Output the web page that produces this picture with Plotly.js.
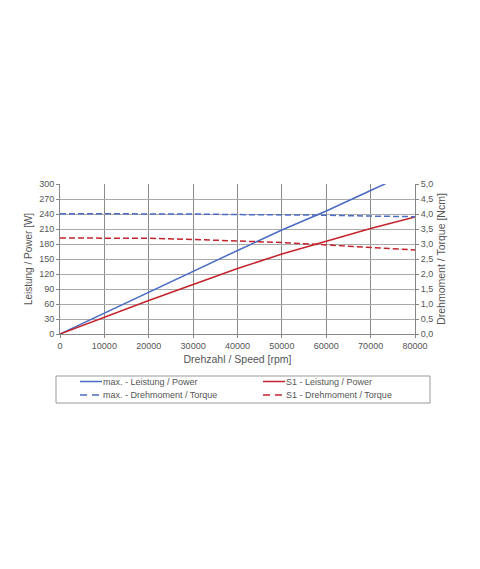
<!DOCTYPE html>
<html>
<head>
<meta charset="utf-8">
<script src="https://cdn.plot.ly/plotly-3.0.1.min.js"></script>
<style>html,body{margin:0;padding:0;background:#fff;}#chart{width:480px;height:569px;}</style>
</head>
<body>
<div id="chart"></div>
<script>
const speed = [0, 10000, 20000, 30000, 40000, 50000, 60000, 70000, 80000];
const maxPower = [0, 42, 84, 125, 167, 208, 246, 287, 328];
const s1Power = [0, 34, 67, 99, 131, 160, 186, 211, 234];
const maxTorque = [4.01, 4.01, 4.01, 4.0, 3.98, 3.98, 3.96, 3.93, 3.91];
const s1Torque = [3.2, 3.2, 3.19, 3.15, 3.11, 3.05, 2.97, 2.89, 2.8];
const torqueTicks = [0, 0.5, 1, 1.5, 2, 2.5, 3, 3.5, 4, 4.5, 5];
const torqueLabels = ['0,0','0,5','1,0','1,5','2,0','2,5','3,0','3,5','4,0','4,5','5,0'];
const names = ['max. - Leistung / Power', 'S1 - Leistung / Power', 'max. - Drehmoment / Torque', 'S1 - Drehmoment / Torque'];

const blue = '#4a6cc2';
const red = '#c3232c';
const font = 'Liberation Sans, Arial, sans-serif';
const colors = [blue, red, blue, red];
const dashes = ['solid', 'solid', '6px,3px', '6px,3px'];
const axes = ['y', 'y', 'y2', 'y2'];
const series = [maxPower, s1Power, maxTorque, s1Torque];

const traces = series.map((s, i) => ({
  x: speed, y: s, name: names[i], mode: 'lines', yaxis: axes[i],
  line: {color: colors[i], width: 1.5, dash: dashes[i]}, showlegend: false
}));

// plot area in pixels (for placing the legend box below it)
const M = {l: 60, r: 65, t: 184, b: 235};
const PW = 480 - M.l - M.r, PH = 569 - M.t - M.b;
const px = v => (v - M.l) / PW;
const py = v => (569 - M.b - v) / PH;

// custom legend: 2 columns x 2 rows
const legCols = [80, 263];
const legRows = [381.5, 395];
const shapes = [{
  type: 'rect', xref: 'paper', yref: 'paper',
  x0: px(56), x1: px(430), y0: py(376), y1: py(403),
  line: {color: '#999', width: 1}, fillcolor: 'rgba(0,0,0,0)'
}];
const annotations = [];
names.forEach((n, i) => {
  const c = legCols[i % 2], r = legRows[Math.floor(i / 2)];
  shapes.push({type: 'line', xref: 'paper', yref: 'paper',
    x0: px(c), x1: px(c + 22), y0: py(r), y1: py(r),
    line: {color: colors[i], width: 1.5, dash: i < 2 ? 'solid' : '7px,5px'}});
  annotations.push({xref: 'paper', yref: 'paper', x: px(c + 21), y: py(r),
    xanchor: 'left', yanchor: 'middle', showarrow: false, text: n,
    font: {size: 9, color: '#555', family: font}});
});

const layout = {
  width: 480, height: 569,
  margin: M,
  paper_bgcolor: '#fff', plot_bgcolor: '#fff',
  font: {family: font, size: 9, color: '#555'},
  showlegend: false,
  shapes: shapes, annotations: annotations,
  xaxis: {
    range: [0, 80000], dtick: 10000, tick0: 0, tickformat: 'd',
    showgrid: true, gridcolor: '#8a8a8a', gridwidth: 1,
    showline: true, linecolor: '#888', linewidth: 1,
    ticks: 'outside', ticklen: 3, tickcolor: '#888',
    zeroline: false,
    tickfont: {size: 9, color: '#555'},
    title: {text: 'Drehzahl / Speed [rpm]', font: {size: 10.5, color: '#555'}, standoff: 5}
  },
  yaxis: {
    range: [0, 300], dtick: 30, tick0: 0,
    showgrid: true, gridcolor: '#aaa', gridwidth: 1,
    showline: true, linecolor: '#888', linewidth: 1,
    ticks: 'outside', ticklen: 3, tickcolor: '#888',
    zeroline: false,
    tickfont: {size: 9, color: '#555'},
    title: {text: 'Leistung / Power [W]', font: {size: 10, color: '#555'}, standoff: 4}
  },
  yaxis2: {
    range: [0, 5], overlaying: 'y', side: 'right',
    tickmode: 'array', tickvals: torqueTicks, ticktext: torqueLabels,
    showgrid: false, zeroline: false,
    showline: true, linecolor: '#888', linewidth: 1,
    ticks: 'outside', ticklen: 3, tickcolor: '#888',
    tickfont: {size: 9, color: '#555'},
    title: {text: 'Drehmoment / Torque [Ncm]', font: {size: 10.5, color: '#555'}, standoff: 5}
  }
};

Plotly.newPlot('chart', traces, layout, {displayModeBar: false, staticPlot: true});
</script>
</body>
</html>
